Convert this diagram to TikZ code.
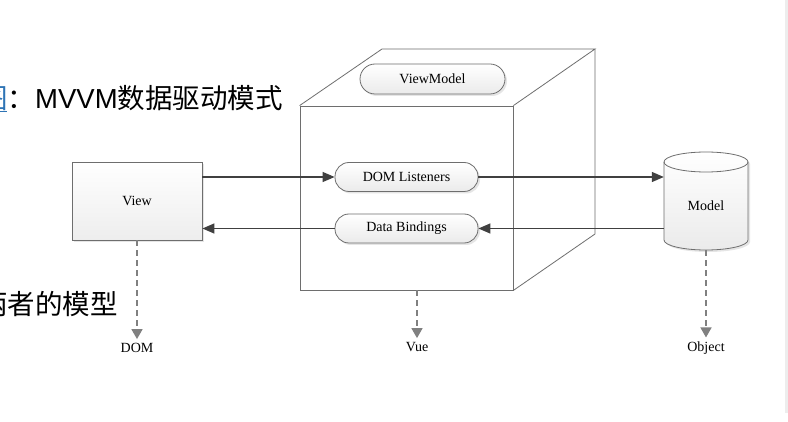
\documentclass[tikz,border=0pt]{standalone}
\usepackage{fontspec}
\setmainfont{Liberation Serif}
\newfontfamily\cjk{Noto Sans CJK SC}
\newfontfamily\latinhead{Liberation Sans}
\usetikzlibrary{arrows.meta,shadows,calc}
\definecolor{edgec}{HTML}{6E6E6E}
\definecolor{arrowc}{HTML}{404040}
\definecolor{dashc}{HTML}{808080}
\definecolor{linkblue}{HTML}{2E74B5}
\begin{document}
\begin{tikzpicture}[x=1pt,y=-1pt,
  lbl/.style={font=\fontsize{14}{16}\selectfont, text=black},
  shadowed/.style={drop shadow={shadow xshift=2pt, shadow yshift=-2pt, fill=gray!45, opacity=0.45}},
  pill/.style={lbl, draw=edgec, line width=0.8pt, rounded corners=14pt,
    top color=white, bottom color=gray!16, minimum width=143pt, minimum height=29pt,
    inner sep=0pt, shadowed},
  boxc/.style={lbl, draw=edgec, line width=0.8pt, top color=white, bottom color=gray!14,
    minimum width=130pt, minimum height=78pt, inner sep=0pt, shadowed},
  cubeline/.style={draw=edgec, line width=0.8pt},
  conn/.style={draw=arrowc, line width=1.3pt, -{Triangle[length=12pt,width=10pt]}},
  dasharrow/.style={draw=dashc, line width=1.5pt, dash pattern=on 6pt off 4pt,
    -{Triangle[length=10pt,width=11pt]}, shorten >=4pt},
  heading/.style={font=\cjk\fontsize{27.5}{30}\selectfont, anchor=base west, inner sep=0pt}
]
\useasboundingbox (0,0) rectangle (788,422);
\fill[white] (0,0) rectangle (788,422);
\fill[gray!14] (785,0) rectangle (788,413);

% background text
\node[heading] (T1) at (-20,109) {\textcolor{linkblue}{图}：{\latinhead MVVM}数据驱动模式};
\draw[linkblue, line width=1pt] (0,112) -- (7,112);
\node[heading] (T2) at (-20,315) {两者的模型};

% cube
\node[cubeline, minimum width=213pt, minimum height=184pt, inner sep=0pt] (Cube) at (406.5,198) {};
\coordinate (BL) at (382,49);
\coordinate (BR) at (595,49);
\coordinate (BB) at (595,234);
\draw[cubeline] (Cube.north west) -- (BL) -- (BR) -- (Cube.north east);
\draw[cubeline] (BR) -- (BB) -- (Cube.south east);

% model cylinder
\node[minimum width=84pt, minimum height=88pt, inner sep=0pt, lbl] (Model) at (706,206) {};
\path[draw=edgec, line width=0.8pt, top color=white, bottom color=gray!16,
  drop shadow={shadow xshift=2pt, shadow yshift=-2pt, fill=gray!45, opacity=0.45}]
  (664,162) -- (664,240) arc[start angle=180, end angle=360, x radius=42pt, y radius=10pt]
  -- (748,162) arc[start angle=0, end angle=180, x radius=42pt, y radius=10pt] -- cycle;
\draw[edgec, line width=0.8pt] (664,162) arc[start angle=180, end angle=360, x radius=42pt, y radius=10pt];
\node[lbl] at (Model) {Model};

% nodes
\node[boxc] (View) at (137,201) {View};
\node[pill, minimum width=145pt, minimum height=30pt, rounded corners=15pt] (VM) at (432.5,79) {ViewModel};
\node[pill] (DL) at (406.5,177) {DOM Listeners};
\node[pill] (DB) at (406.5,228.5) {Data Bindings};

% connectors
\draw[conn] (View.east |- DL.west) -- (DL.west);
\draw[conn] (DB.west) -- (View.east |- DB.west);
\draw[conn] (DL.east) -- (Model.west |- DL.east);
\draw[conn] (Model.west |- DB.east) -- (DB.east);

% labels below
\node[lbl, inner sep=0pt] (DOM) at (137,348) {DOM};
\node[lbl, inner sep=0pt] (Vue) at (417,347) {Vue};
\node[lbl, inner sep=0pt] (Obj) at (706,348) {Object};
\draw[dasharrow] (View.south) -- (DOM.north);
\draw[dasharrow] (Vue |- Cube.south) -- (Vue.north);
\draw[dasharrow] (Model.south) -- (Obj.north);
\end{tikzpicture}
\end{document}
